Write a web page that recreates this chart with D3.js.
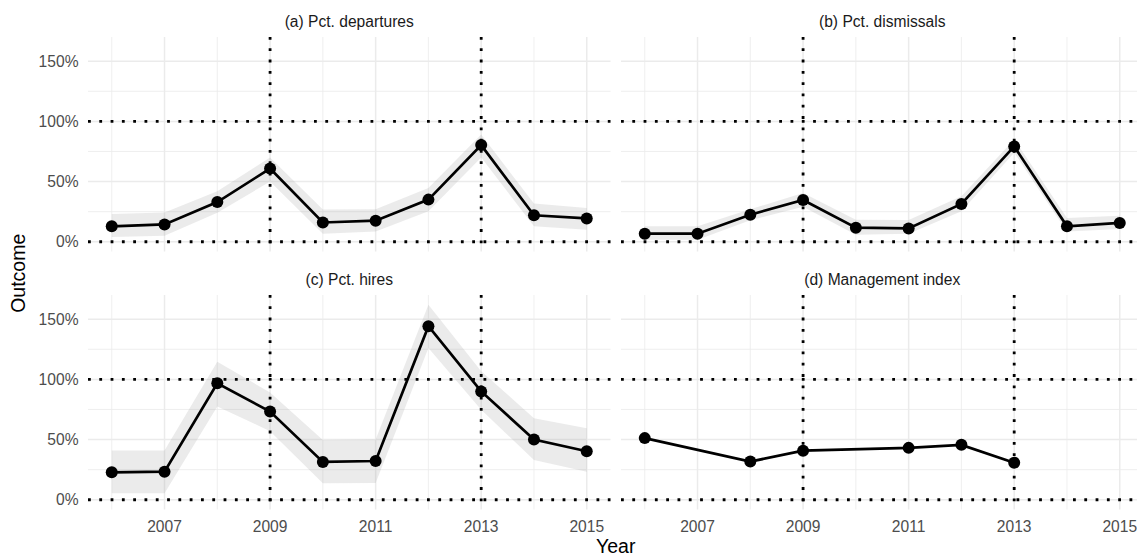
<!DOCTYPE html>
<html>
<head>
<meta charset="utf-8">
<script src="https://cdn.jsdelivr.net/npm/d3@7"></script>
<style>
  body { margin: 0; background: #fff; }
  text { font-family: "Liberation Sans", Arial, sans-serif; }
  .tick-label { fill: #4D4D4D; font-size: 15.6px; }
  .strip { fill: #1A1A1A; font-size: 15.6px; }
  .axis-title { fill: #000; font-size: 19.5px; }
</style>
</head>
<body>
<div id="chart"></div>
<script>
var svgWidth = 1137;
var svgHeight = 556;

// data
var years = [2006, 2007, 2008, 2009, 2010, 2011, 2012, 2013, 2014, 2015];

var departures   = [0.128, 0.144, 0.330, 0.608, 0.160, 0.175, 0.350, 0.803, 0.220, 0.194];
var departuresLo = [0.040, 0.050, 0.240, 0.500, 0.067, 0.086, 0.253, 0.700, 0.128, 0.100];
var departuresHi = [0.230, 0.244, 0.420, 0.700, 0.267, 0.270, 0.447, 0.890, 0.317, 0.280];

var dismissals   = [0.067, 0.067, 0.225, 0.347, 0.117, 0.111, 0.314, 0.792, 0.128, 0.156];
var dismissalsLo = [0.017, 0.017, 0.178, 0.290, 0.058, 0.067, 0.253, 0.740, 0.086, 0.106];
var dismissalsHi = [0.128, 0.128, 0.270, 0.405, 0.183, 0.180, 0.378, 0.850, 0.197, 0.217];

var hires   = [0.228, 0.233, 0.967, 0.733, 0.314, 0.322, 1.442, 0.900, 0.500, 0.403];
var hiresLo = [0.053, 0.053, 0.775, 0.570, 0.137, 0.140, 1.260, 0.748, 0.330, 0.233];
var hiresHi = [0.410, 0.410, 1.147, 0.890, 0.497, 0.500, 1.620, 1.067, 0.678, 0.595];

var mgmtYears = [2006, 2008, 2009, 2011, 2012, 2013];
var mgmt      = [0.512, 0.317, 0.408, 0.431, 0.456, 0.308];

var panelTitles = ["(a) Pct. departures", "(b) Pct. dismissals", "(c) Pct. hires", "(d) Management index"];
var xTicks = [2007, 2009, 2011, 2013, 2015];
var xMinor = [2006, 2008, 2010, 2012, 2014];
var yTicks = [0, 0.5, 1, 1.5];
var yMinor = [0.25, 0.75, 1.25];
var vLines = [2009, 2013];
var hLines = [0, 1];

function rows(xs, ys, lo, hi) {
    return xs.map((x, i) => ({year: x, value: ys[i], lo: lo ? lo[i] : null, hi: hi ? hi[i] : null}));
}

var panels = [
    {title: panelTitles[0], data: rows(years, departures, departuresLo, departuresHi), col: 0, row: 0},
    {title: panelTitles[1], data: rows(years, dismissals, dismissalsLo, dismissalsHi), col: 1, row: 0},
    {title: panelTitles[2], data: rows(years, hires, hiresLo, hiresHi), col: 0, row: 1},
    {title: panelTitles[3], data: rows(mgmtYears, mgmt, null, null), col: 1, row: 1}
];

var margin = {left: 88, top: 37};
var panelWidth = 522.5;
var panelHeight = 214.5;
var colGap = 10.5;
var rowStep = 258;

var svg = d3.select("#chart").append("svg")
    .attr("width", svgWidth)
    .attr("height", svgHeight);

// shared scales (ggplot style 5% expansion)
var xExtent = d3.extent(years);
var xPad = (xExtent[1] - xExtent[0]) * 0.05;
var xScale = d3.scaleLinear()
    .domain([xExtent[0] - xPad, xExtent[1] + xPad])
    .range([0, panelWidth]);

var yMaxData = d3.max([d3.max(departuresHi), d3.max(dismissalsHi), d3.max(hiresHi), d3.max(mgmt), 1]);
var yMinData = 0;
var yPad = (yMaxData - yMinData) * 0.05;
var yScale = d3.scaleLinear()
    .domain([yMinData - yPad, yMaxData + yPad])
    .range([panelHeight, 0]);

function drawPanel(p) {
    var ox = margin.left + p.col * (panelWidth + colGap);
    var oy = margin.top + p.row * rowStep;
    var g = svg.append("g").attr("transform", `translate(${ox}, ${oy})`);

    // minor grid
    g.selectAll(".xminor").data(xMinor).enter().append("line")
        .attr("x1", d => xScale(d)).attr("x2", d => xScale(d))
        .attr("y1", 0).attr("y2", panelHeight)
        .attr("stroke", "#EBEBEB").attr("stroke-width", 0.8);
    g.selectAll(".yminor").data(yMinor).enter().append("line")
        .attr("y1", d => yScale(d)).attr("y2", d => yScale(d))
        .attr("x1", 0).attr("x2", panelWidth)
        .attr("stroke", "#EBEBEB").attr("stroke-width", 0.8);
    // major grid
    g.selectAll(".xmajor").data(xTicks).enter().append("line")
        .attr("x1", d => xScale(d)).attr("x2", d => xScale(d))
        .attr("y1", 0).attr("y2", panelHeight)
        .attr("stroke", "#EBEBEB").attr("stroke-width", 1.5);
    g.selectAll(".ymajor").data(yTicks).enter().append("line")
        .attr("y1", d => yScale(d)).attr("y2", d => yScale(d))
        .attr("x1", 0).attr("x2", panelWidth)
        .attr("stroke", "#EBEBEB").attr("stroke-width", 1.5);

    // ribbon
    var withCI = p.data.filter(d => d.lo != null);
    if (withCI.length) {
        g.append("path")
            .datum(withCI)
            .attr("fill", "#999999")
            .attr("fill-opacity", 0.2)
            .attr("d", d3.area()
                .x(d => xScale(d.year))
                .y0(d => yScale(d.lo))
                .y1(d => yScale(d.hi)));
    }

    // reference lines
    g.selectAll(".hl").data(hLines).enter().append("line")
        .attr("x1", 0).attr("x2", panelWidth)
        .attr("y1", d => yScale(d)).attr("y2", d => yScale(d))
        .attr("stroke", "#000").attr("stroke-width", 2.8)
        .attr("stroke-dasharray", "2.8 8.5");
    g.selectAll(".vl").data(vLines).enter().append("line")
        .attr("x1", d => xScale(d)).attr("x2", d => xScale(d))
        .attr("y1", 0).attr("y2", panelHeight)
        .attr("stroke", "#000").attr("stroke-width", 2.8)
        .attr("stroke-dasharray", "2.8 8.5");

    // line + points
    g.append("path")
        .datum(p.data)
        .attr("fill", "none")
        .attr("stroke", "#000")
        .attr("stroke-width", 2.7)
        .attr("d", d3.line().x(d => xScale(d.year)).y(d => yScale(d.value)));
    g.selectAll(".pt").data(p.data).enter().append("circle")
        .attr("cx", d => xScale(d.year))
        .attr("cy", d => yScale(d.value))
        .attr("r", 6)
        .attr("fill", "#000");

    // strip title
    svg.append("text").classed("strip", true)
        .attr("x", ox + panelWidth / 2)
        .attr("y", oy - 10)
        .attr("text-anchor", "middle")
        .text(p.title);

    // y tick labels on left column
    if (p.col === 0) {
        g.selectAll(".ytl").data(yTicks).enter().append("text").classed("tick-label", true)
            .attr("x", -9.5)
            .attr("y", d => yScale(d))
            .attr("dy", "0.36em")
            .attr("text-anchor", "end")
            .text(d => d3.format(".0%")(d));
    }
    // x tick labels on bottom row
    if (p.row === 1) {
        g.selectAll(".xtl").data(xTicks).enter().append("text").classed("tick-label", true)
            .attr("x", d => xScale(d))
            .attr("y", panelHeight + 22.5)
            .attr("text-anchor", "middle")
            .text(d => d);
    }
}

panels.forEach(drawPanel);

// axis titles
var plotLeft = margin.left;
var plotRight = margin.left + 2 * panelWidth + colGap;
svg.append("text").classed("axis-title", true)
    .attr("x", (plotLeft + plotRight) / 2)
    .attr("y", 553)
    .attr("text-anchor", "middle")
    .text("Year");

svg.append("text").classed("axis-title", true)
    .attr("transform", `translate(25, ${margin.top + (rowStep + panelHeight) / 2}) rotate(-90)`)
    .attr("text-anchor", "middle")
    .text("Outcome");
</script>
</body>
</html>
